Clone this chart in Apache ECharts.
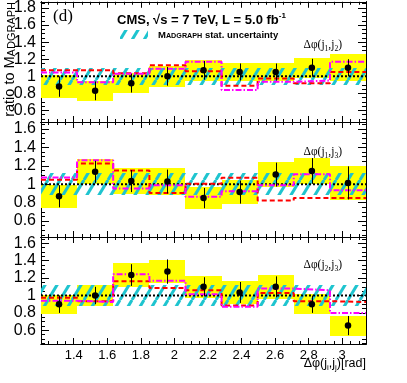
<!DOCTYPE html>
<html>
<head>
<meta charset="utf-8">
<script src="https://cdn.jsdelivr.net/npm/echarts@6/dist/echarts.min.js"></script>
<style>
  html, body { margin: 0; padding: 0; background: #fff; }
  #chart { width: 407px; height: 383px; }
</style>
</head>
<body>
<div id="chart"></div>
<script>
// delta phi bin edges [rad]
const binEdges = [1.205, 1.420, 1.635, 1.851, 2.066, 2.281, 2.496, 2.711, 2.927, 3.1416];

// Δφ(j1,j2)
const ratioJ1J2   = [0.88, 0.83, 0.92, 1.00, 1.07, 1.05, 1.05, 1.10, 1.10];
const statJ1J2    = [0.12, 0.11, 0.11, 0.11, 0.11, 0.10, 0.10, 0.105, 0.10];
const sysJ1J2     = [0.13, 0.115, 0.12, 0.12, 0.12, 0.11, 0.11, 0.12, 0.16];
const dashedJ1J2  = [1.07, 1.07, 1.035, 1.13, 1.06, 0.89, 0.975, 0.92, 1.05];
const dashDotJ1J2 = [1.045, 0.93, 1.03, 1.09, 1.17, 0.84, 0.935, 0.95, 1.17];

// Δφ(j1,j3)
const ratioJ1J3   = [0.87, 1.135, 1.035, 1.03, 0.85, 0.915, 1.105, 1.145, 1.015];
const statJ1J3    = [0.12, 0.12, 0.12, 0.13, 0.11, 0.125, 0.13, 0.14, 0.18];
const sysJ1J3     = [0.125, 0.135, 0.145, 0.15, 0.12, 0.13, 0.135, 0.145, 0.185];
const dashedJ1J3  = [1.05, 1.225, 1.15, 0.905, 1.005, 1.07, 0.825, 0.85, 0.85];
const dashDotJ1J3 = [1.075, 1.26, 0.955, 0.99, 0.865, 0.925, 0.99, 1.11, 0.935];

// Δφ(j2,j3)
const ratioJ2J3   = [0.90, 1.00, 1.235, 1.275, 1.10, 1.035, 1.10, 0.90, 0.655];
const statJ2J3    = [0.10, 0.10, 0.125, 0.14, 0.11, 0.12, 0.12, 0.10, 0.11];
const sysJ2J3     = [0.11, 0.115, 0.135, 0.135, 0.125, 0.135, 0.135, 0.115, 0.115];
const dashedJ2J3  = [0.975, 0.935, 1.165, 1.085, 1.06, 0.885, 1.03, 0.935, 0.925];
const dashDotJ2J3 = [0.94, 0.925, 1.245, 1.17, 1.015, 0.87, 1.08, 1.06, 0.80];

// MadGraph stat. uncertainty (half width) per panel
const mgStatUnc = [0.10, 0.12, 0.12];
const refValue = 1;

const xTickLabels = [1.4, 1.6, 1.8, 2, 2.2, 2.4, 2.6, 2.8, 3];
const yTickLabels = [0.6, 0.8, 1, 1.2, 1.4, 1.6, 1.8];

const panelData = [
  { ratio: ratioJ1J2, stat: statJ1J2, sys: sysJ1J2, dashed: dashedJ1J2, dashDot: dashDotJ1J2 },
  { ratio: ratioJ1J3, stat: statJ1J3, sys: sysJ1J3, dashed: dashedJ1J3, dashDot: dashDotJ1J3 },
  { ratio: ratioJ2J3, stat: statJ2J3, sys: sysJ2J3, dashed: dashedJ2J3, dashDot: dashDotJ2J3 }
];

// pad layout
const panels = [
  { top: 1, height: 121, yMin: 0.465, yMax: 1.873 },
  { top: 122, height: 115, yMin: 0.427, yMax: 1.677 },
  { top: 237, height: 107, yMin: 0.443, yMax: 1.672 }
];

const xMin = binEdges[0];
const xMax = binEdges[binEdges.length - 1];

function steps(lo, hi, step) {
  const out = [];
  for (let v = Math.ceil(lo / step - 1e-6) * step; v <= hi + 1e-9; v += step) {
    out.push(Math.round(v * 1000) / 1000);
  }
  return out;
}

function makeHatch() {
  const c = document.createElement('canvas');
  c.width = 12;
  c.height = 20;
  const g = c.getContext('2d');
  g.strokeStyle = '#1ec4cf';
  g.lineWidth = 3;
  for (const dx of [-12, 0, 12]) {
    g.beginPath();
    g.moveTo(dx, 20);
    g.lineTo(dx + 12, 0);
    g.stroke();
  }
  return c;
}
const hatch = { image: makeHatch(), repeat: 'repeat' };

const chart = echarts.init(document.getElementById('chart'), null, { renderer: 'canvas' });

const grid = [];
const xAxis = [];
const yAxis = [];
const series = [];

function axisCommon(gi, pos, min, max, ticks, len, labels, labelSize) {
  return {
    type: 'value', gridIndex: gi, position: pos, min: min, max: max,
    axisLine: { show: true, onZero: false, lineStyle: { color: '#000', width: 1 } },
    axisTick: { show: true, inside: true, length: len, customValues: ticks, lineStyle: { color: '#000', width: 1 } },
    axisLabel: labels
      ? { show: true, customValues: labels, color: '#000', fontSize: labelSize, fontFamily: 'Liberation Sans', margin: 5 }
      : { show: false },
    splitLine: { show: false },
    minorTick: { show: false }
  };
}

function rectItem(api, x0, x1, y0, y1, style) {
  const a = api.coord([x0, y1]);
  const b = api.coord([x1, y0]);
  const l = Math.round(a[0]), r = Math.round(b[0]);
  const t = Math.round(a[1]), btm = Math.round(b[1]);
  return { type: 'rect', shape: { x: l, y: t, width: r - l, height: btm - t }, style: style };
}

function stepData(vals) {
  const out = [];
  vals.forEach((v, i) => {
    out.push([binEdges[i], v]);
    out.push([binEdges[i + 1], v]);
  });
  return out;
}

panels.forEach((p, i) => {
  const d = panelData[i];
  grid.push({ left: 41, width: 325, top: p.top, height: p.height, show: false });

  const xMajor = xTickLabels.filter(v => v > xMin && v < xMax);
  const xMinor = steps(xMin, xMax, 0.05).filter(v => xMajor.indexOf(v) < 0);
  const yLabels = yTickLabels.filter(v => v > p.yMin && v < p.yMax);
  const yMinor = steps(p.yMin, p.yMax, 0.05).filter(v => yLabels.indexOf(v) < 0);

  xAxis.push(axisCommon(i, 'bottom', xMin, xMax, xMajor, 6, i === 2 ? xTickLabels : null, 13));
  xAxis.push(axisCommon(i, 'bottom', xMin, xMax, xMinor, 3));
  xAxis.push(axisCommon(i, 'top', xMin, xMax, xMajor, 6));
  xAxis.push(axisCommon(i, 'top', xMin, xMax, xMinor, 3));
  yAxis.push(axisCommon(i, 'left', p.yMin, p.yMax, yLabels, 8, yLabels, 16));
  yAxis.push(axisCommon(i, 'left', p.yMin, p.yMax, yMinor, 4));
  yAxis.push(axisCommon(i, 'right', p.yMin, p.yMax, yLabels, 8));
  yAxis.push(axisCommon(i, 'right', p.yMin, p.yMax, yMinor, 4));

  const ax = { xAxisIndex: 4 * i, yAxisIndex: 4 * i };
  const bins = d.ratio.map((v, k) => [binEdges[k], binEdges[k + 1], v, d.sys[k], d.stat[k]]);

  // yellow uncertainty boxes
  series.push(Object.assign({
    type: 'custom', clip: true, silent: true, z: 1,
    data: bins,
    renderItem: (params, api) => rectItem(api, api.value(0), api.value(1),
      api.value(2) - api.value(3), api.value(2) + api.value(3), { fill: '#ffff00' })
  }, ax));

  // MadGraph stat. band
  series.push(Object.assign({
    type: 'custom', clip: true, silent: true, z: 2,
    data: bins,
    renderItem: (params, api) => rectItem(api, api.value(0), api.value(1),
      refValue - mgStatUnc[i], refValue + mgStatUnc[i], { fill: hatch })
  }, ax));

  // reference line
  series.push(Object.assign({
    type: 'line', silent: true, z: 3, symbol: 'none',
    data: [[xMin, refValue], [xMax, refValue]],
    lineStyle: { color: '#000', width: 2, type: [2, 2] }
  }, ax));

  // models
  series.push(Object.assign({
    type: 'line', silent: true, z: 4, symbol: 'none', clip: true,
    data: stepData(d.dashed),
    lineStyle: { color: '#ff0000', width: 2, type: [5, 3] }
  }, ax));
  series.push(Object.assign({
    type: 'line', silent: true, z: 5, symbol: 'none', clip: true,
    data: stepData(d.dashDot),
    lineStyle: { color: '#ff00ff', width: 2, type: [6, 2, 1.5, 2] }
  }, ax));

  // error bars
  series.push(Object.assign({
    type: 'custom', clip: true, silent: true, z: 6,
    data: bins,
    renderItem: (params, api) => {
      const xc = (api.value(0) + api.value(1)) / 2;
      const a = api.coord([xc, api.value(2) + api.value(4)]);
      const b = api.coord([xc, api.value(2) - api.value(4)]);
      const x = Math.round(a[0]) + 0.5;
      return { type: 'line', shape: { x1: x, y1: a[1], x2: x, y2: b[1] }, style: { stroke: '#000', lineWidth: 1 } };
    }
  }, ax));

  // data points
  series.push(Object.assign({
    type: 'scatter', silent: true, z: 7, symbol: 'circle', symbolSize: 6.5,
    data: bins.map(b => [(b[0] + b[1]) / 2, b[2]]),
    itemStyle: { color: '#000', opacity: 1 }
  }, ax));
});

const serif = "'Liberation Serif', 'DejaVu Serif', serif";
const sans = "'Liberation Sans', Arial, sans-serif";

function panelLabel(a, b, y) {
  return {
    type: 'text', x: 342, y: y, z: 100,
    style: {
      text: '{m|Δφ(j}{s|' + a + '}{m|,j}{s|' + b + '}{m|)}',
      textAlign: 'right', textVerticalAlign: 'middle', fill: '#000',
      rich: {
        m: { fontFamily: serif, fontSize: 11.5, lineHeight: 12 },
        s: { fontFamily: serif, fontSize: 7.5, lineHeight: 7.5, padding: [8, 0, 0, 0] }
      }
    }
  };
}

const graphic = [
  { type: 'text', x: 53, y: 17, z: 100,
    style: { text: '(d)', font: '17px ' + serif, fill: '#000', textVerticalAlign: 'middle' } },
  { type: 'text', x: 117, y: 20, z: 100,
    style: {
      text: '{a|CMS, √s = 7 TeV, L = 5.0 fb}{b|-1}',
      textVerticalAlign: 'middle', fill: '#000',
      rich: {
        a: { fontFamily: sans, fontWeight: 'bold', fontSize: 13, lineHeight: 16 },
        b: { fontFamily: sans, fontWeight: 'bold', fontSize: 8, lineHeight: 8, verticalAlign: 'top' }
      }
    } },
  { type: 'rect', z: 100, shape: { x: 120, y: 30, width: 28, height: 9 }, style: { fill: hatch } },
  { type: 'text', x: 158, y: 35, z: 100,
    style: {
      text: '{a|M}{b|ADGRAPH}{a| stat. uncertainty}',
      textVerticalAlign: 'middle', fill: '#000',
      rich: {
        a: { fontFamily: sans, fontWeight: 'bold', fontSize: 9.5, lineHeight: 10, verticalAlign: 'bottom' },
        b: { fontFamily: sans, fontWeight: 'bold', fontSize: 7.2, lineHeight: 7.5, verticalAlign: 'bottom' }
      }
    } },
  panelLabel(1, 2, 45),
  panelLabel(1, 3, 152),
  panelLabel(2, 3, 265),
  { type: 'text', x: 366, y: 364, z: 100,
    style: {
      text: '{m|Δφ(j}{s|i}{m|,j}{s|j}{m|)[rad]}',
      textAlign: 'right', textVerticalAlign: 'middle', fill: '#000',
      rich: {
        m: { fontFamily: sans, fontSize: 12.5, lineHeight: 13 },
        s: { fontFamily: sans, fontSize: 8, lineHeight: 8, padding: [8, 0, 0, 0] }
      }
    } },
  { type: 'text', x: 10, y: 2, rotation: Math.PI / 2, z: 100,
    style: {
      text: '{a|ratio to M}{b|ADGRAPH}',
      textAlign: 'right', textVerticalAlign: 'middle', fill: '#000',
      rich: {
        a: { fontFamily: sans, fontSize: 14.5, lineHeight: 15, verticalAlign: 'bottom' },
        b: { fontFamily: sans, fontSize: 11, lineHeight: 11.5, verticalAlign: 'bottom' }
      }
    } }
];

chart.setOption({
  animation: false,
  backgroundColor: '#fff',
  textStyle: { fontFamily: sans },
  grid: grid,
  xAxis: xAxis,
  yAxis: yAxis,
  series: series,
  graphic: graphic
});
</script>
</body>
</html>
